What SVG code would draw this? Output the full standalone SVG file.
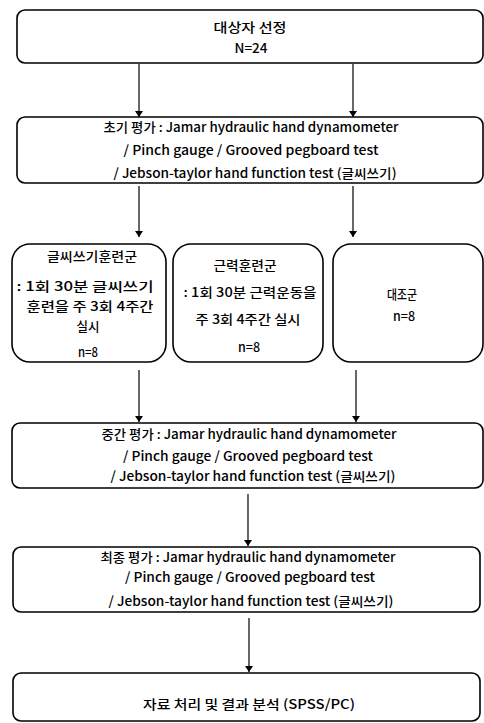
<svg xmlns="http://www.w3.org/2000/svg" width="484" height="723" viewBox="0 0 484 723">
<style>
.box{fill:#fff;stroke:#000;stroke-width:1.6}
.t{font-family:"Noto Sans CJK KR","Liberation Sans",sans-serif;font-size:13px;font-weight:500;fill:#000;text-anchor:middle}
.c{stroke:#000;stroke-width:1.2;fill:none;marker-end:url(#ah)}
</style>
<defs>
<marker id="ah" viewBox="0 0 6 8" refX="6" refY="4" markerWidth="6" markerHeight="8" markerUnits="userSpaceOnUse" orient="auto">
<path d="M0,0 L6,4 L0,8 Z" fill="#000"/>
</marker>
</defs>
<rect width="484" height="723" fill="#fff"/>
<g id="connectors">
<line class="c" x1="139" y1="64" x2="139" y2="117"/>
<line class="c" x1="353" y1="64" x2="353" y2="117"/>
<line class="c" x1="139" y1="186" x2="139" y2="237"/>
<line class="c" x1="353" y1="186" x2="353" y2="237"/>
<line class="c" x1="139" y1="370" x2="139" y2="422"/>
<line class="c" x1="356" y1="370" x2="356" y2="422"/>
<line class="c" x1="248" y1="494" x2="248" y2="546"/>
<line class="c" x1="249" y1="618" x2="249" y2="672"/>
</g>
<g id="n1">
<rect class="box" x="17" y="10" width="466" height="53" rx="8"/>
<text class="t" x="250" y="32" textLength="73" lengthAdjust="spacingAndGlyphs">대상자 선정</text>
<text class="t" x="251" y="53" textLength="33" lengthAdjust="spacingAndGlyphs">N=24</text>
</g>
<g id="n2">
<rect class="box" x="17" y="117" width="466" height="66" rx="8"/>
<text class="t" x="251" y="132" textLength="295" lengthAdjust="spacingAndGlyphs">초기 평가 : Jamar hydraulic hand dynamometer</text>
<text class="t" x="251" y="155" textLength="255" lengthAdjust="spacingAndGlyphs">/ Pinch gauge / Grooved pegboard test</text>
<text class="t" x="255" y="178" textLength="283" lengthAdjust="spacingAndGlyphs">/ Jebson-taylor hand function test (글씨쓰기)</text>
</g>
<g id="n3">
<rect class="box" x="12" y="244" width="154" height="118" rx="18"/>
<text class="t" x="92" y="261" textLength="90" lengthAdjust="spacingAndGlyphs">글씨쓰기훈련군</text>
<text class="t" x="85" y="291" textLength="137" lengthAdjust="spacingAndGlyphs">: 1회 30분 글씨쓰기</text>
<text class="t" x="90" y="311" textLength="127" lengthAdjust="spacingAndGlyphs">훈련을 주 3회 4주간</text>
<text class="t" x="88" y="331" textLength="23" lengthAdjust="spacingAndGlyphs">실시</text>
<text class="t" x="88" y="357" textLength="20" lengthAdjust="spacingAndGlyphs">n=8</text>
</g>
<g id="n4">
<rect class="box" x="173" y="244" width="150" height="118" rx="18"/>
<text class="t" x="245" y="270" textLength="63" lengthAdjust="spacingAndGlyphs">근력훈련군</text>
<text class="t" x="250" y="297" textLength="133" lengthAdjust="spacingAndGlyphs">: 1회 30분 근력운동을</text>
<text class="t" x="248" y="324" textLength="105" lengthAdjust="spacingAndGlyphs">주 3회 4주간 실시</text>
<text class="t" x="249" y="352" textLength="22" lengthAdjust="spacingAndGlyphs">n=8</text>
</g>
<g id="n5">
<rect class="box" x="333" y="244" width="150" height="118" rx="18"/>
<text class="t" x="402" y="299" textLength="30" lengthAdjust="spacingAndGlyphs">대조군</text>
<text class="t" x="404" y="321" textLength="22" lengthAdjust="spacingAndGlyphs">n=8</text>
</g>
<g id="n6">
<rect class="box" x="12" y="423" width="471" height="65" rx="8"/>
<text class="t" x="249" y="439" textLength="295" lengthAdjust="spacingAndGlyphs">중간 평가 : Jamar hydraulic hand dynamometer</text>
<text class="t" x="248" y="461" textLength="250" lengthAdjust="spacingAndGlyphs">/ Pinch gauge / Grooved pegboard test</text>
<text class="t" x="253" y="481" textLength="285" lengthAdjust="spacingAndGlyphs">/ Jebson-taylor hand function test (글씨쓰기)</text>
</g>
<g id="n7">
<rect class="box" x="13" y="547" width="467" height="65" rx="8"/>
<text class="t" x="248" y="562" textLength="295" lengthAdjust="spacingAndGlyphs">최종 평가 : Jamar hydraulic hand dynamometer</text>
<text class="t" x="250" y="582" textLength="250" lengthAdjust="spacingAndGlyphs">/ Pinch gauge / Grooved pegboard test</text>
<text class="t" x="251" y="606" textLength="285" lengthAdjust="spacingAndGlyphs">/ Jebson-taylor hand function test (글씨쓰기)</text>
</g>
<g id="n8">
<rect class="box" x="13" y="673" width="467" height="48" rx="8"/>
<text class="t" x="249" y="709" textLength="212" lengthAdjust="spacingAndGlyphs">자료 처리 및 결과 분석 (SPSS/PC)</text>
</g>
</svg>
